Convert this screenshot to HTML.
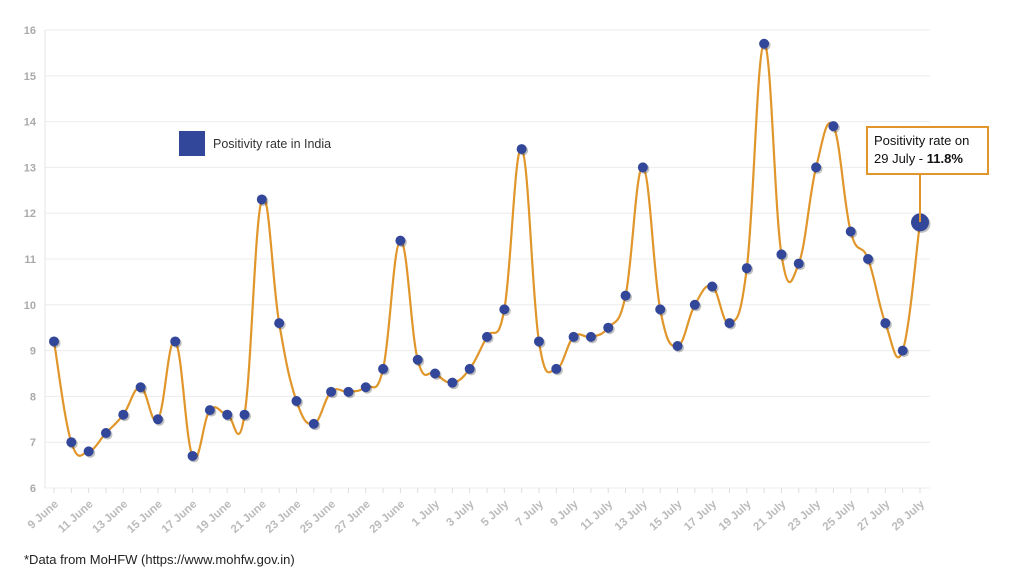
<!DOCTYPE html>
<html><head><meta charset="utf-8"><style>
body{margin:0;background:#fff;width:1024px;height:576px;overflow:hidden;font-family:"Liberation Sans",sans-serif}
</style></head><body>
<svg id="s" width="1024" height="576" xmlns="http://www.w3.org/2000/svg" font-family="Liberation Sans, sans-serif">
<rect width="1024" height="576" fill="#fff"/>
<g id="grid"></g>
<path id="ln" fill="none" stroke="#e0962a" stroke-width="2.2"/>
<g id="pts"></g>
<rect x="179" y="131" width="26" height="25" fill="#33479a"/>
<text x="213" y="148" font-size="12.5" fill="#333">Positivity rate in India</text>
<line x1="920" y1="175" x2="920" y2="222" stroke="#e0962a" stroke-width="2"/>
<rect x="867" y="127" width="121" height="47" fill="#fff" stroke="#e0962a" stroke-width="2"/>
<text x="874" y="145" font-size="13" fill="#111">Positivity rate on</text>
<text x="874" y="163" font-size="13" fill="#111">29 July - <tspan font-weight="bold">11.8%</tspan></text>
<text x="24" y="564" font-size="13" fill="#222">*Data from MoHFW (https://www.mohfw.gov.in)</text>
</svg>
<script>
const d=[9.2,7.0,6.8,7.2,7.6,8.2,7.5,9.2,6.7,7.7,7.6,7.6,12.3,9.6,7.9,7.4,8.1,8.1,8.2,8.6,11.4,8.8,8.5,8.3,8.6,9.3,9.9,13.4,9.2,8.6,9.3,9.3,9.5,10.2,13.0,9.9,9.1,10.0,10.4,9.6,10.8,15.7,11.1,10.9,13.0,13.9,11.6,11.0,9.6,9.0,11.8];
const X=i=>54+i*17.32, Y=v=>488-(v-6)*45.8;
const ns="http://www.w3.org/2000/svg";
const g=document.getElementById('grid');
function el(t,a,p,txt){const e=document.createElementNS(ns,t);for(const k in a)e.setAttribute(k,a[k]);if(txt)e.textContent=txt;p.appendChild(e);return e;}
for(let v=6;v<=16;v++){const y=Y(v);el('line',{x1:45,x2:930,y1:y,y2:y,stroke:'#ececec','stroke-width':1},g);
el('text',{x:36,y:y+4,'font-size':11,'font-weight':'bold',fill:'#aaa','text-anchor':'end'},g,String(v));}
el('line',{x1:45,x2:45,y1:Y(16),y2:488,stroke:'#e4e4e4'},g);
const lab=['9 June','11 June','13 June','15 June','17 June','19 June','21 June','23 June','25 June','27 June','29 June','1 July','3 July','5 July','7 July','9 July','11 July','13 July','15 July','17 July','19 July','21 July','23 July','25 July','27 July','29 July'];
for(let i=0;i<=50;i++){el('line',{x1:X(i),x2:X(i),y1:488,y2:493,stroke:'#ddd'},g);}
lab.forEach((t,k)=>{const x=X(k*2)+5,y=505;el('text',{x:x,y:y,'font-size':11.5,'font-weight':'bold',fill:'#bbb','text-anchor':'end',transform:`rotate(-42 ${x} ${y})`},g,t);});
let p=`M${X(0)},${Y(d[0])}`;
for(let i=0;i<d.length-1;i++){const p0=[X(Math.max(i-1,0)),Y(d[Math.max(i-1,0)])],p1=[X(i),Y(d[i])],p2=[X(i+1),Y(d[i+1])],p3=[X(Math.min(i+2,50)),Y(d[Math.min(i+2,50)])];const t=0.2;
p+=` C${p1[0]+(p2[0]-p0[0])*t},${p1[1]+(p2[1]-p0[1])*t} ${p2[0]-(p3[0]-p1[0])*t},${p2[1]-(p3[1]-p1[1])*t} ${p2[0]},${p2[1]}`;}
document.getElementById('ln').setAttribute('d',p);
const P=document.getElementById('pts');
d.forEach((v,i)=>{const r=i==50?9:5;el('circle',{cx:X(i)+1.5,cy:Y(v)+1.5,r:r,fill:'rgba(0,0,0,0.25)'},P);el('circle',{cx:X(i),cy:Y(v),r:r,fill:'#33479a'},P);});
</script>
</body></html>
